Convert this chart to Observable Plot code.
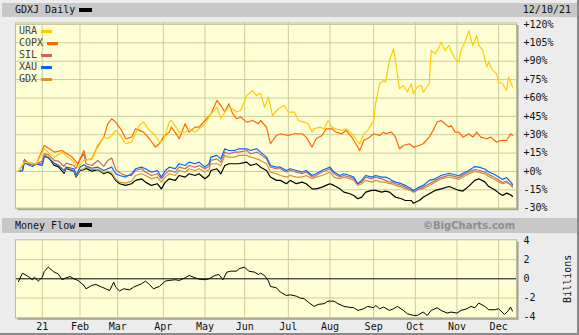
<!DOCTYPE html>
<html><head><meta charset="utf-8">
<script src="https://cdn.jsdelivr.net/npm/d3@7"></script>
<script src="https://cdn.jsdelivr.net/npm/@observablehq/plot@0.6"></script>
<style>
body{margin:0;background:#ececec;}
#chart{position:relative;width:579px;height:335px;background:#ececec;overflow:hidden;font-family:"DejaVu Sans Mono",monospace;font-size:10px;color:#111;}
.bar{position:absolute;left:2px;width:575px;background:#c8c8c8;}
.t{position:absolute;white-space:nowrap;line-height:12px;}
.sw{position:absolute;height:3px;}
svg{position:absolute;left:0;}
</style></head>
<body>
<div id="chart"></div>
<script>
// ---- data ----
const monthTicks = [12,31,50,73,94,114,136,157,179,200,221,242];
const monthLabels = ["21","Feb","Mar","Apr","May","Jun","Jul","Aug","Sep","Oct","Nov","Dec"];
const pctTicks = [-30,-15,0,15,30,45,60,75,90,105,120];
const flowTicks = [-4,-2,0,2,4];
const seriesNames = ["URA","COPX","SIL","XAU","GDX"];
const seriesColors = ["#ffcc00","#ff6600","#cc6666","#0066ff","#cc9933"];

const clusterDays = [0,2,3,5,7,9,12,13,15,18,
 20,23,24,28,29,31,33,34,37,40,
 43,45,47,49,51,54,57,59,62,64,
 67,70,72,74,76,79,81,84,86,89,
 91,94,96,97,100,102,104,106,109,111,
 115,117,120,122,125,127,130,132,135,137,
 140,143,145,148,150,153,155,157,159,162,
 164,167,169,171,173,175,178,180,183,185,
 187,188,190,193,195,198,199,202,204,207,
 210,213,217,222,224,227,230,232,235,237,
 240,242,244,246,248,249];

const xau = [0,0.8,7,5.5,4,6,4.9,12.2,11,6.8,
 5,0.8,3.5,2.2,-3.3,3.5,5.5,4.5,2.6,3.5,
 0.8,2.2,3.5,-1.9,-3.3,-4.6,-1.9,2.2,3.5,2.2,
 -0.5,0.8,-4.6,0.8,3.5,2.2,6.3,4.9,7.6,6.3,
 7.6,3.5,6.3,11.7,13.1,10.3,18.5,17.1,17.1,18.5,
 18.5,17.1,18.5,15.8,11.7,4.9,3.5,3.5,0.8,2.2,
 0.8,-0.5,0.8,-3.3,-1.9,0.8,2.2,3.5,-0.5,-3.3,
 -1.9,-3.3,-4.6,-10,-7.3,-3.3,-4.6,-3.3,-4.6,-4.6,
 -6,-7.3,-8.7,-10,-11.4,-14.2,-15.5,-12.8,-11.4,-7.3,
 -6,-3.3,-1.5,-3.5,-1.5,0.8,4,3.5,2,-0.5,
 -2.5,-4.6,-6.5,-5,-8.5,-10.5];

const sil = [0,0.8,9,7,6,6.3,8.4,14.4,14,9,
 8.5,4.1,6.8,4.9,2.2,10,14.5,6.3,4.9,9,
 4.2,9,11,1.5,-1,-3.3,-3.3,0.8,2.2,-0.5,
 -3.3,-1.9,-6,-1.9,0.8,-0.5,3.5,2.2,4.9,3.5,
 4.9,2.2,4.1,9,10.3,7.6,15.8,14.4,15.8,15.8,
 17.1,14.4,15.8,13.8,10.3,3.5,2.2,2.2,-0.5,0.8,
 -0.5,-1.9,-0.5,-4.6,-3.3,-0.5,0.8,2.2,-1.9,-4.6,
 -3.3,-4.6,-6,-10,-8.7,-4.6,-6,-4.6,-6,-7.3,
 -8.7,-8.7,-10,-11.4,-12.8,-15.5,-16.9,-14.2,-12.8,-10,
 -7.3,-5,-3,-5,-3,-0.5,1.5,1,-0.5,-2.5,
 -5,-7,-9,-8,-11,-12.8];

const gdx = [0,0.8,8.7,6.3,5.5,6.3,6.8,13.3,12,6.5,
 5.5,-0.3,3,0.8,-4,1.4,2.2,3.5,1.4,1.9,
 -1.1,0.3,-1.1,-6.3,-8.7,-9.5,-7.9,-3.3,-1.9,-3.3,
 -6,-4.6,-8.7,-4.6,-1.9,-3.3,0.8,-0.5,2.2,0.8,
 2.2,-0.5,1.4,6.3,6.3,4.9,13.1,11.7,11.7,13.1,
 13.1,11.7,10.3,9,6.3,-0.5,-1.9,-3.3,-4.6,-3.3,
 -4.6,-4.6,-3.3,-6,-4.6,-3.3,-1.9,-0.5,-4.6,-6,
 -4.6,-6,-7.3,-11.4,-10,-7.3,-8.7,-7.3,-8.7,-8.7,
 -10,-10,-11.4,-12.8,-14.2,-15.5,-16.9,-14.2,-14.2,-11.4,
 -8.7,-6,-4.5,-6.5,-4.5,-2,0,-0.5,-2,-4,
 -6.5,-8.5,-10,-9,-10.5,-11.4];

const gdxj = [0,0.8,9.5,6.3,5.5,6.3,6.5,13,11.7,5,
 4,-1.5,2.5,0.3,-4.6,0.8,1.4,2.5,0.3,1.4,
 -1.9,-0.5,-2.5,-7.3,-10,-11.4,-10,-7.3,-6,-8.7,
 -11.4,-10,-14.2,-8.7,-6,-7.3,-3.3,-4.6,-1.9,-3.3,
 -1.9,-6,-3.3,0.8,2.2,-1.9,4.9,6.3,6.3,6.3,
 7.6,4.9,6.3,3.5,0.8,-4.6,-7.3,-7.3,-10,-7.3,
 -10,-8.7,-10,-14.2,-14.2,-12.8,-11.4,-10,-11.4,-14.2,
 -16.9,-18.2,-19.6,-22.3,-21,-16.9,-15.5,-15.5,-16.9,-16,
 -16.9,-18.2,-21,-22.3,-23.7,-23.7,-25.9,-23.7,-21,-18.2,
 -15.5,-14.2,-12.3,-15.5,-16,-12,-7.3,-6,-8.5,-12.3,
 -15,-17.5,-19.6,-17.7,-19,-20.4];

const ura = [[0,0],[3,7.6],[9,6],[13,18.5],[18,11.7],[22,15.8],[27,9],[30,3.5],[33,9],[37,10.3],
 [40,19.9],[43,28],[45,26.7],[47,29.4],[49,33.5],[52,28],[54,22.6],[57,24],[59,31],[61,38],
 [63,40.3],[66,33.5],[69,29.4],[71,24],[73,25.3],[76,40.3],[77,41.6],[80,34.8],[81,32.1],[84,32.1],
 [86,34.8],[89,32],[91,34.8],[94,38.9],[97,47],[100,52.5],[102,43],[104,48.5],[106,52.5],[108,51],
 [110,48.5],[112,49.8],[115,62],[118,66],[120,62],[122,64],[124,52.5],[126,60.7],[128,45.7],[131,51.2],
 [134,53.9],[136,48.5],[139,48.5],[141,41.6],[144,40.3],[146,38.9],[148,32.1],[149,34.8],[152,36.2],[154,34.8],
 [156,41.6],[158,36.2],[160,34.8],[163,33.5],[165,34.8],[168,30.8],[170,26.7],[172,22.6],[174,30.8],[176,33.5],
 [179,41.6],[180,55.3],[182,71.6],[184,74.3],[185,73],[187,90.6],[189,100.2],[190,90.6],[192,67.5],[194,70.2],
 [196,64.8],[198,71.6],[199,63.4],[201,68.9],[203,70.2],[204,64.8],[207,71.6],[208,98.8],[210,96.1],[212,101.5],
 [213,105.6],[215,98.8],[217,102.9],[218,98.8],[220,92],[222,89.3],[223,98.8],[225,105.6],[227,115.1],[228,108.3],
 [229,102.9],[231,111],[232,102.9],[234,98.8],[236,85.2],[237,89.3],[239,82.5],[241,79.8],[242,73],[244,71.6],
 [246,66.1],[247,77],[248,73],[249,68.9]];

const copx = [[0,0],[3,7.6],[9,6.3],[13,21.2],[18,15.8],[22,17.1],[27,11.7],[30,6.3],[33,17.1],[34,9.5],
 [37,10.3],[40,21.2],[43,28],[45,38.9],[47,43],[49,40.3],[52,33.5],[54,26.7],[57,28],[59,34.8],
 [61,33.5],[63,32.1],[66,26.7],[69,19.9],[71,22.6],[73,28],[76,32.1],[77,36.2],[80,29.4],[81,26.7],
 [84,38.9],[86,32.1],[89,36.2],[91,36.2],[94,41.6],[97,47],[100,58],[102,53.9],[104,48.5],[106,55.3],
 [108,47],[110,43],[112,44.4],[115,40.3],[118,41.6],[121,38.9],[122,41.6],[125,36.2],[127,22.6],[130,29.4],
 [132,30.8],[136,29.4],[139,30.8],[143,30.8],[145,28],[148,19.9],[150,26.7],[153,29.4],[155,34.8],[158,34.8],
 [160,32.1],[163,30.8],[165,33.5],[168,28],[170,22.6],[172,17.1],[174,25.3],[177,28],[179,30.8],[182,29.4],
 [184,32.1],[185,30.8],[188,32.1],[190,28],[192,18.5],[194,21.2],[197,22.6],[199,19.9],[202,21.2],[204,22.6],
 [207,28],[209,33.5],[211,40.3],[213,41.6],[215,38.9],[217,36.2],[218,37.6],[220,32.1],[222,32.1],[224,28],
 [227,30.8],[229,28],[231,32.1],[233,28],[236,26.7],[238,28],[241,24],[243,25.3],[246,25.3],[248,30.8],[249,29.4]];

const moneyFlow = [[0,-0.3],[2,0.59],[5,0.24],[7,-0.1],[8,0.17],[10,-0.24],[12,0.17],[13,0.76],[15,1.22],[17,0.87],
 [18,0.69],[20,0.52],[22,-0.1],[24,0.1],[26,0.24],[28,0],[30,-0.17],[33,-0.69],[34,-1.04],[37,-0.69],
 [39,-0.59],[42,-0.87],[44,-1.04],[46,-1.22],[48,-0.35],[49,-0.87],[51,-1.28],[53,-1.04],[56,-1.15],[58,-0.87],
 [62,-0.52],[64,-0.24],[66,-0.59],[68,-1.04],[71,-0.8],[74,-0.24],[76,-0.17],[79,-0.1],[81,-0.17],[84,0.1],
 [86,0.35],[89,0.1],[91,-0.03],[94,-0.1],[96,0],[99,0.35],[101,0.45],[103,-0.1],[105,0.69],[107,0.8],
 [110,0.8],[111,1.04],[114,1.22],[116,0.8],[119,0.69],[121,0.45],[122,0.59],[124,0.35],[126,-0.24],[127,-0.8],
 [130,-0.94],[132,-1.39],[135,-1.74],[137,-1.67],[140,-1.81],[142,-2.01],[144,-2.08],[146,-2.43],[149,-2.88],[151,-2.67],
 [154,-2.6],[156,-2.33],[159,-2.33],[161,-2.6],[164,-2.88],[166,-2.95],[169,-3.02],[171,-3.3],[174,-3.13],[176,-2.88],
 [179,-3.02],[180,-2.78],[182,-3.13],[184,-2.95],[187,-3.3],[189,-3.13],[191,-2.88],[194,-3.3],[196,-3.65],[199,-3.82],
 [201,-3.82],[204,-3.47],[206,-3.82],[208,-3.3],[211,-3.02],[213,-3.3],[216,-3.58],[218,-3.47],[221,-3.58],[223,-3.3],
 [226,-3.13],[228,-2.88],[230,-3.02],[232,-2.53],[235,-2.88],[237,-3.23],[240,-3.23],[242,-3.13],[245,-3.72],[247,-3.3],
 [248,-2.95],[249,-3.37]];

// ---- build ----
const grid = "#cbcb98";
const fromCluster = vals => clusterDays.map((d, i) => ({d, v: vals[i]}));
const fromPairs = arr => arr.map(([d, v]) => ({d, v}));
const xDomain = [-1.5, 251];
const pctFmt = v => (v >= 0 ? "+" : "") + v + "%";

const root = document.getElementById("chart");
root.innerHTML = `
<div class="bar" style="top:3px;height:14px"></div>
<div class="t" style="left:15px;top:4px">GDXJ Daily</div>
<div class="sw" style="left:79px;top:8px;width:13px;height:4px;background:#000"></div>
<div class="t" style="right:8px;top:4px">12/10/21</div>
<div class="bar" style="top:218px;height:15px"></div>
<div class="t" style="left:15px;top:220px">Money Flow</div>
<div class="sw" style="left:79px;top:223px;width:13px;height:4px;background:#000"></div>
<div class="t" style="left:423px;top:220px;font-family:'DejaVu Sans',sans-serif;font-weight:bold;color:#8e8e8e">©BigCharts.com</div>
`;

const main = Plot.plot({
  width: 579, height: 217,
  marginLeft: 15, marginRight: 63, marginTop: 22.5, marginBottom: 9.3,
  x: {domain: xDomain, axis: null},
  y: {domain: [-30, 121.2], axis: "right", ticks: pctTicks, tickFormat: pctFmt, tickSize: 0, tickPadding: 7, label: null},
  marks: [
    Plot.frame({fill: "#a2a2a2", dx: 2, dy: 2}),
    Plot.frame({fill: "#ffffd6"}),
    Plot.ruleX(monthTicks, {stroke: grid}),
    Plot.ruleY(pctTicks, {stroke: grid}),
    Plot.line(fromCluster(gdxj), {x: "d", y: "v", stroke: "#000", strokeWidth: 1.2}),
    Plot.line(fromCluster(gdx), {x: "d", y: "v", stroke: seriesColors[4], strokeWidth: 1.2}),
    Plot.line(fromCluster(sil), {x: "d", y: "v", stroke: seriesColors[2], strokeWidth: 1.2}),
    Plot.line(fromCluster(xau), {x: "d", y: "v", stroke: seriesColors[3], strokeWidth: 1.2}),
    Plot.line(fromPairs(copx), {x: "d", y: "v", stroke: seriesColors[1], strokeWidth: 1.2}),
    Plot.line(fromPairs(ura), {x: "d", y: "v", stroke: seriesColors[0], strokeWidth: 1.2}),
    Plot.frame({stroke: "#bdbd8c"})
  ]
});
main.style.top = "0px";
root.appendChild(main);

const flow = Plot.plot({
  width: 579, height: 101,
  marginLeft: 15, marginRight: 63, marginTop: 5.3, marginBottom: 17.7,
  x: {domain: xDomain, ticks: monthTicks, tickFormat: d => monthLabels[monthTicks.indexOf(d)], tickSize: 0, tickPadding: 5, label: null},
  y: {domain: [-4.07, 4.07], axis: "right", ticks: flowTicks, tickFormat: d => String(d), tickSize: 0, tickPadding: 7,
      label: "Billions", labelAnchor: "center", labelOffset: 54, labelArrow: false},
  marks: [
    Plot.frame({fill: "#a2a2a2", dx: 2, dy: 2}),
    Plot.frame({fill: "#ffffd6"}),
    Plot.ruleX(monthTicks, {stroke: grid}),
    Plot.ruleY([-2, 2], {stroke: grid}),
    Plot.ruleY([0], {stroke: "#000"}),
    Plot.line(fromPairs(moneyFlow), {x: "d", y: "v", stroke: "#000", strokeWidth: 1}),
    Plot.frame({stroke: "#bdbd8c"})
  ]
});
flow.style.top = "234px";
root.appendChild(flow);

for (const svg of [main, flow]) {
  svg.style.background = "transparent";
  svg.style.position = "absolute";
  svg.style.left = "0px";
  svg.style.fontFamily = "'DejaVu Sans Mono', monospace";
  svg.style.fontSize = "10px";
  svg.style.color = "#111";
  svg.style.maxWidth = "none";
}

// legend inside the main plot
seriesNames.forEach((name, i) => {
  const y = 25 + i * 12;
  const t = document.createElement("div");
  t.className = "t";
  t.style.left = "19px"; t.style.top = y + "px"; t.style.color = "#444";
  t.textContent = name;
  root.appendChild(t);
  const s = document.createElement("div");
  s.className = "sw";
  s.style.left = (19 + name.length * 6 + 4) + "px";
  s.style.top = (y + 4.5) + "px";
  s.style.width = "11px";
  s.style.background = seriesColors[i];
  root.appendChild(s);
});

// outer border
const b = document.createElement("div");
b.style.cssText = "position:absolute;left:0;top:0;width:577px;height:333px;border-right:2px solid #8a8a8a;border-bottom:2px solid #8a8a8a;pointer-events:none";
root.appendChild(b);
</script>
</body></html>
